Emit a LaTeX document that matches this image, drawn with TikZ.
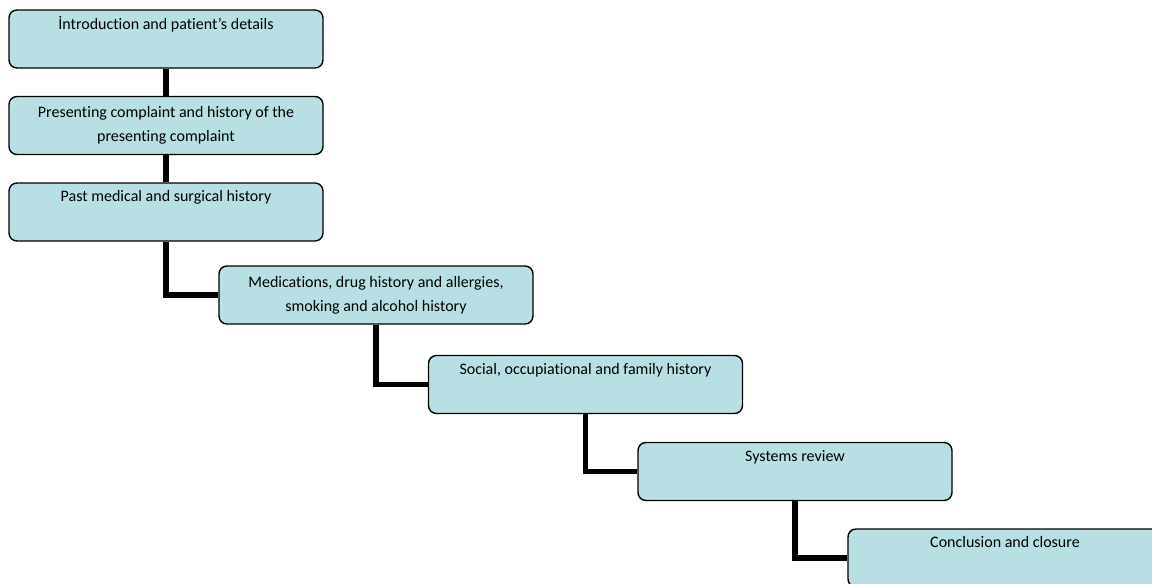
\documentclass[tikz,border=0pt]{standalone}
\usepackage{fontspec}
\setmainfont[Ligatures=NoCommon]{Carlito}
\definecolor{boxfill}{RGB}{184,223,227}
\tikzset{
  stepbox/.style={draw=black, line width=1.4pt, fill=boxfill, rounded corners=8pt,
    minimum width=314pt, minimum height=58pt, inner sep=0pt, align=center,
    font=\fontsize{16}{24}\selectfont},
  link/.style={draw=black, line width=5.5pt, line join=miter}
}
\begin{document}
\begin{tikzpicture}[x=1pt,y=-1pt]
\useasboundingbox (0,0) rectangle (1152,584);
\clip (0,0) rectangle (1152,584);
\node[stepbox] (b1) at (166,39) {İntroduction and patient’s details\\\strut};
\node[stepbox] (b2) at (166,125.5) {Presenting complaint and history of the\\presenting complaint};
\node[stepbox] (b3) at (166,212) {Past medical and surgical history\\\strut};
\node[stepbox] (b4) at (376,295) {Medications, drug history and allergies,\\smoking and alcohol history};
\node[stepbox] (b5) at (585.5,384.5) {Social, occupiational and family history\\\strut};
\node[stepbox] (b6) at (795,471.5) {Systems review\\\strut};
\node[stepbox] (b7) at (1005,558) {Conclusion and closure\\\strut};
\draw[link] (b1.south) -- (b2.north);
\draw[link] (b2.south) -- (b3.north);
\draw[link] (b3.south) |- (b4.west);
\draw[link] (b4.south) |- (b5.west);
\draw[link] (b5.south) |- (b6.west);
\draw[link] (b6.south) |- (b7.west);
\end{tikzpicture}
\end{document}
